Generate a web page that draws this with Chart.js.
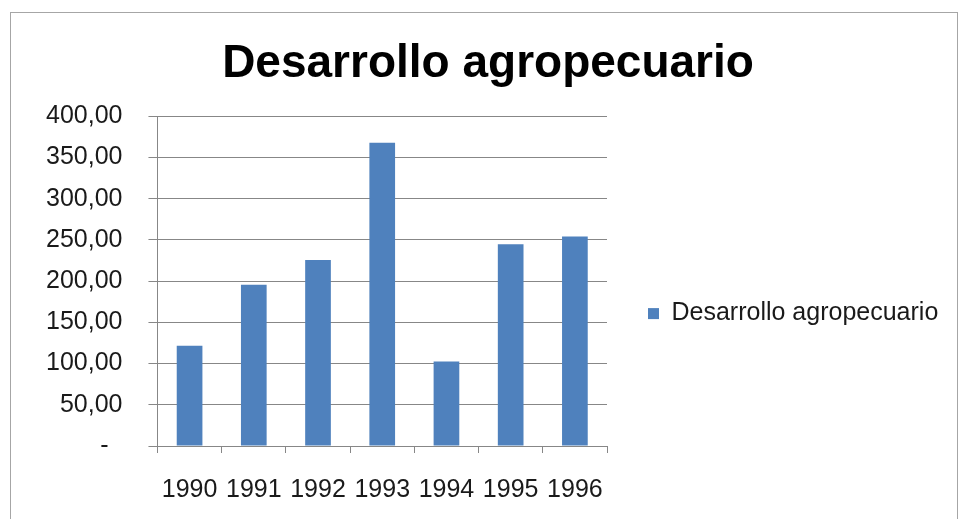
<!DOCTYPE html>
<html>
<head>
<meta charset="utf-8">
<script src="https://cdn.jsdelivr.net/npm/chart.js@4.4.1/dist/chart.umd.min.js"></script>
<style>
  html, body { margin: 0; padding: 0; background: #fff; overflow: hidden; }
  #frame { position: absolute; left: 10px; top: 12px; width: 946px; height: 600px; border: 1px solid #a6a6a6; }
  #wrap { position: absolute; left: 0; top: 0; width: 959px; height: 519px; }
</style>
</head>
<body>
<div id="frame"></div>
<div id="wrap"><canvas id="agroChart" width="959" height="519"></canvas></div>
<script>
// datos
const years = ["1990", "1991", "1992", "1993", "1994", "1995", "1996"];
const desarrollo = [121.5, 195.6, 225.6, 367.8, 102.5, 244.6, 254.0];
const seriesName = "Desarrollo agropecuario";

const ctx = document.getElementById("agroChart").getContext("2d");
const gridGray = "#878787";
const legendWidth = 349;

const chart = new Chart(ctx, {
  type: "bar",
  data: {
    labels: years,
    datasets: [
      {
        label: seriesName,
        data: desarrollo,
        backgroundColor: "#4f81bd",
        borderWidth: 0,
        barPercentage: 0.4,
        categoryPercentage: 1.0,
      },
    ],
  },
  options: {
    responsive: false,
    animation: false,
    layout: { padding: { left: 20, right: 3, top: 37, bottom: -8 } },
    scales: {
      x: {
        grid: {
          display: true,
          drawOnChartArea: false,
          drawTicks: true,
          tickLength: 7,
          color: gridGray,
          offset: true,
        },
        border: { color: gridGray, width: 1 },
        ticks: {
          color: "#1a1a1a",
          padding: 22,
          maxRotation: 0,
          font: { family: "Liberation Sans, Arial", size: 25 },
        },
      },
      y: {
        min: 0,
        max: 400,
        ticks: {
          stepSize: 50,
          color: "#1a1a1a",
          padding: 26,
          font: { family: "Liberation Sans, Arial", size: 25 },
          callback: (v) => (v === 0 ? "-  " : v.toFixed(2).replace(".", ",")),
        },
        grid: { color: gridGray, tickLength: 9 },
        border: { color: gridGray, width: 1 },
      },
    },
    plugins: {
      title: {
        display: true,
        text: "Desarrollo agropecuario",
        color: "#000",
        font: { family: "Liberation Sans, Arial", size: 46, weight: "bold" },
        padding: { top: 0, bottom: 24 },
      },
      legend: {
        position: "right",
        title: { display: true, text: " ", font: { size: 1 }, padding: { top: 0, bottom: 62 } },
        labels: {
          color: "#1a1a1a",
          boxWidth: 11,
          boxHeight: 11,
          padding: 41,
          font: { family: "Liberation Sans, Arial", size: 25 },
        },
      },
      tooltip: { enabled: false },
    },
  },
});

// la leyenda necesita mas ancho que el limite por defecto del layout
const baseFit = chart.legend.fit;
chart.legend.fit = function () {
  baseFit.call(this);
  this.width = legendWidth;
};
chart.update();
</script>
</body>
</html>
